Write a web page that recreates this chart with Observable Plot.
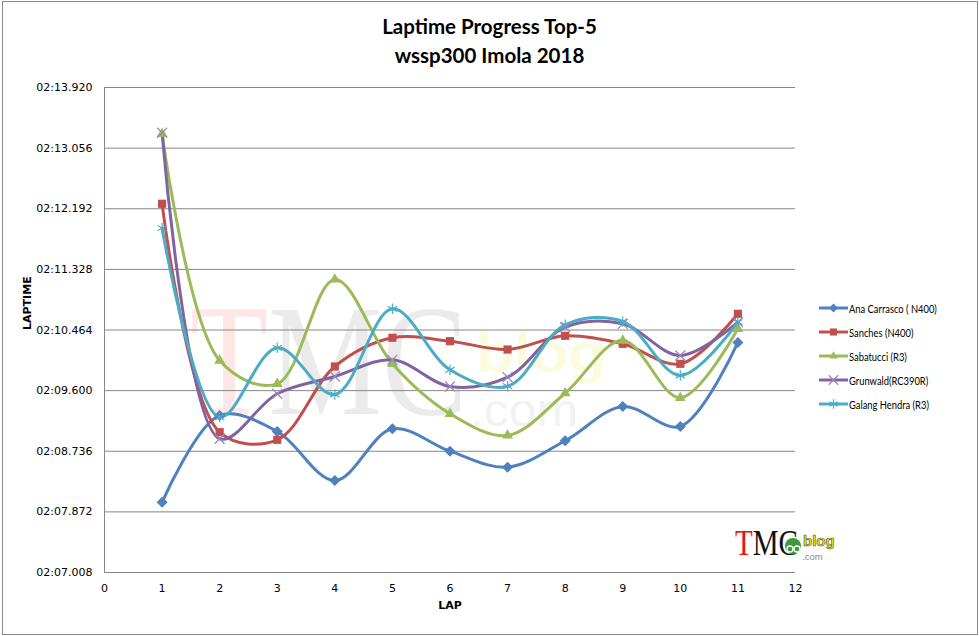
<!DOCTYPE html>
<html><head><meta charset="utf-8">
<script src="https://cdn.jsdelivr.net/npm/d3@7"></script>
<script src="https://cdn.jsdelivr.net/npm/@observablehq/plot@0.6"></script>
<style>
body{margin:0;background:#fff;}
#wrap{position:relative;width:979px;height:636px;overflow:hidden;background:#fff;}
#frame{position:absolute;left:2px;top:1px;width:974px;height:632px;border:1px solid #8a8a8a;pointer-events:none;}
#title{position:absolute;left:0;width:979px;top:12px;text-align:center;font:bold 20.5px Lato, sans-serif;line-height:29px;color:#000;}
#wm{position:absolute;left:0;top:0;width:979px;height:636px;}
#chart{position:absolute;left:0;top:0;}
#legend{position:absolute;left:818px;top:296px;font:12px Lato, sans-serif;color:#000;}
#legend .it{height:24px;display:flex;align-items:center;white-space:nowrap;}
#legend .it span{display:inline-block;transform:scaleX(0.78);transform-origin:0 50%;}
#logo{position:absolute;left:733px;top:522px;}
</style></head><body>
<div id="wrap">
  <div id="wm"></div>
  <div id="chart"></div>
  <div id="title">Laptime Progress Top-5<br>wssp300 Imola 2018</div>
  <div id="legend"></div>
  <div id="logo"></div>
  <div id="frame"></div>
</div>
<script>
// ---- data (lap times in seconds) ----
const laps = [1, 2, 3, 4, 5, 6, 7, 8, 9, 10, 11];
const anaCarrasco = [128.010, 129.246, 129.018, 128.319, 129.056, 128.737, 128.509, 128.885, 129.374, 129.089, 130.286];
const sanches     = [132.263, 129.008, 128.899, 129.944, 130.353, 130.305, 130.186, 130.381, 130.267, 129.982, 130.695];
const sabatucci   = [133.260, 130.029, 129.697, 131.184, 129.982, 129.270, 128.961, 129.563, 130.314, 129.498, 130.481];
const grunwald    = [133.275, 128.914, 129.555, 129.801, 130.039, 129.659, 129.791, 130.504, 130.552, 130.101, 130.575];
const galang      = [131.915, 129.221, 130.210, 129.545, 130.766, 129.897, 129.663, 130.538, 130.585, 129.816, 130.575];
const seriesNames = ["Ana Carrasco ( N400)", "Sanches (N400)", "Sabatucci (R3)", "Grunwald(RC390R)", "Galang Hendra (R3)"];
const seriesColors = ["#4F81BD", "#C0504D", "#9BBB59", "#8064A2", "#4BACC6"];
const markerColors = ["#4F81BD", "#C0504D", "#9BBB59", "#9a86c0", "#4BACC6"];
const seriesSymbols = ["diamond2", "square", "triangle2", "times", "asterisk"];
const yTicks = [127.008, 127.872, 128.736, 129.600, 130.464, 131.328, 132.192, 133.056, 133.920];
const yTickLabels = ["02:07.008", "02:07.872", "02:08.736", "02:09.600", "02:10.464", "02:11.328", "02:12.192", "02:13.056", "02:13.920"];
const xTicks = [0, 1, 2, 3, 4, 5, 6, 7, 8, 9, 10, 11, 12];

const allSeries = [anaCarrasco, sanches, sabatucci, grunwald, galang];
const rows = allSeries.flatMap((vals, i) => vals.map((v, j) => ({lap: laps[j], t: v, s: i})));

const font = "DejaVu Sans, sans-serif";
const lines = allSeries.map((vals, i) =>
  Plot.line(rows.filter(d => d.s === i), {x: "lap", y: "t", stroke: seriesColors[i], strokeWidth: 3, curve: "catmull-rom"}));
const dots = allSeries.map((vals, i) => {
  const sym = seriesSymbols[i];
  const strokeSym = sym === "times" || sym === "asterisk";
  const rr = {diamond2: 5, square: 4.6, triangle2: 5.2, times: 4.6, asterisk: 5}[sym];
  return Plot.dot(rows.filter(d => d.s === i), strokeSym
    ? {x: "lap", y: "t", symbol: () => sym, r: rr, stroke: markerColors[i], strokeWidth: 1.2}
    : {x: "lap", y: "t", symbol: () => sym, r: rr, fill: markerColors[i], stroke: "none"});
});

const chart = Plot.plot({
  width: 979, height: 636,
  marginLeft: 104, marginRight: 184, marginTop: 87, marginBottom: 64,
  style: {background: "transparent", fontFamily: font, fontSize: "11px", color: "#000", overflow: "visible"},
  x: {domain: [0, 12], ticks: xTicks},
  y: {domain: [127.008, 133.920]},
  symbol: {type: "identity"},
  marks: [
    Plot.ruleY(yTicks, {stroke: "#868686", strokeWidth: 1}),
    Plot.ruleX([0], {stroke: "#868686", strokeWidth: 1}),
    Plot.axisY({ticks: yTicks, tickSize: 0, tickPadding: 12, tickFormat: v => yTickLabels[yTicks.indexOf(v)], label: null, fontSize: 11, fill: "#000"}),
    Plot.axisX({ticks: xTicks, tickSize: 0, tickPadding: 12, tickFormat: d3.format("d"), label: null, fontSize: 11, fill: "#000"}),
    Plot.text(["LAPTIME"], {frameAnchor: "left", dx: -77, rotate: -90, fontWeight: "bold", fontSize: 11, fill: "#000"}),
    Plot.text(["LAP"], {frameAnchor: "bottom", dx: 0, dy: 36, fontWeight: "bold", fontSize: 11, fill: "#000"}),
    ...lines,
    ...dots
  ]
});
document.getElementById("chart").appendChild(chart);

// ---- watermark (faint background logo) ----
document.getElementById("wm").innerHTML = `
<svg width="979" height="636" style="position:absolute;left:0;top:0">
  <text transform="translate(190,414) scale(0.81,1)" font-family="Liberation Serif, serif" font-size="158" opacity="0.09"><tspan fill="#ff0000">T</tspan><tspan fill="#333">MC</tspan></text>
  <text x="476" y="372" font-family="Liberation Sans, sans-serif" font-weight="bold" font-size="56" fill="#f0e000" fill-opacity="0.13" textLength="130" lengthAdjust="spacingAndGlyphs">blog</text>
  <text x="470" y="426" font-family="Liberation Sans, sans-serif" font-size="46" fill="#999" fill-opacity="0.15" textLength="108" lengthAdjust="spacingAndGlyphs">.com</text>
</svg>`;

// ---- bottom-right logo ----
document.getElementById("logo").innerHTML = `
<svg width="110" height="44">
  <text transform="translate(2,33) scale(0.83,1)" font-family="Liberation Serif, serif" font-size="35"><tspan fill="#ee1111">T</tspan><tspan fill="#111">MC</tspan></text>
  <circle cx="60" cy="24" r="8" fill="#3c9a3c"/>
  <circle cx="57" cy="27" r="3" fill="none" stroke="#fff" stroke-width="1.3"/>
  <circle cx="64" cy="27" r="3" fill="none" stroke="#fff" stroke-width="1.3"/>
  <text x="70" y="24" font-family="Liberation Sans, sans-serif" font-weight="bold" font-size="15" fill="#e8e800" stroke="#555" stroke-width="0.6">blog</text>
  <text x="69" y="37.5" font-family="Liberation Sans, sans-serif" font-size="9.5" fill="#888">.com</text>
</svg>`;

// ---- legend ----
const leg = document.getElementById("legend");
seriesNames.forEach((name, i) => {
  const it = document.createElement("div");
  it.className = "it";
  const sym = seriesSymbols[i];
  const strokeSym = sym === "times" || sym === "asterisk";
  const symMap = {diamond2: d3.symbolDiamond2, square: d3.symbolSquare, triangle2: d3.symbolTriangle2, times: d3.symbolTimes, asterisk: d3.symbolAsterisk};
  const path = d3.symbol(symMap[sym], strokeSym ? 60 : 50)();
  it.innerHTML = `<svg width="31" height="14"><line x1="1" x2="30" y1="7" y2="7" stroke="${seriesColors[i]}" stroke-width="3"/>
    <path transform="translate(15.5,7)" d="${path}" ${strokeSym ? `fill="none" stroke="${markerColors[i]}" stroke-width="1.2"` : `fill="${markerColors[i]}"`}/></svg><span>${name}</span>`;
  leg.appendChild(it);
});
</script>
</body></html>
